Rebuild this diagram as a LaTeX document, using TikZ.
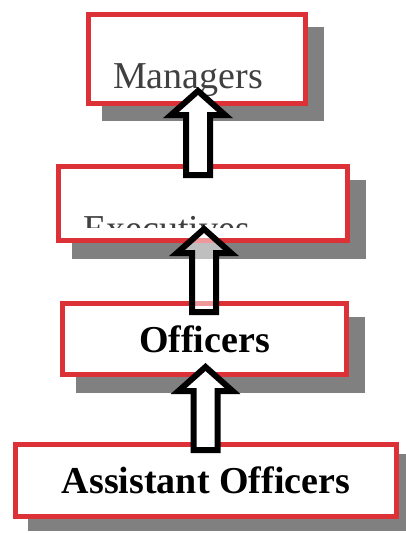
\documentclass[tikz,border=0pt]{standalone}
\usepackage{fontspec}
\setmainfont{Liberation Serif}
\usetikzlibrary{calc,backgrounds}
\definecolor{tierred}{RGB}{221,49,56}
\definecolor{tiershadow}{RGB}{128,128,128}
\definecolor{tiergray}{RGB}{64,64,64}
\tikzstyle{tier}=[draw=tierred, line width=5pt, fill=white, inner sep=0pt, font=\fontsize{38}{44}\selectfont\bfseries]
\tikzstyle{tierlabel}=[inner sep=0pt, text=tiergray, font=\fontsize{38}{44}\selectfont, anchor=base west]
\tikzstyle{liftarrow}=[draw=black, line width=6pt, line join=miter, fill=white]

\begin{document}
\begin{tikzpicture}[x=1pt, y=-1pt]
	\newcommand\liftarrow[3][]{
		\draw[liftarrow, #1] (#2) -- ++(27,24) -- ++(-15,0) |- (#3)
			-- ++(-12,0) |- ($(#2)+(-12,24)$) -- ++(-15,0) -- cycle ;
	}
	\useasboundingbox (0,0) rectangle (405,533) ;
	\node[tier, minimum width=217pt, minimum height=89pt] (mgr) at (197,59) {} ;
	\node[tier, minimum width=289pt, minimum height=74pt] (exe) at (203,203.5) {} ;
	\node[tier, minimum width=284pt, minimum height=71pt] (off) at (204.5,339) {Officers} ;
	\node[tier, minimum width=381pt, minimum height=72pt] (ast) at (206,480.5) {Assistant Officers} ;
	\begin{scope}[on background layer]
		\foreach \lvl/\dx/\dy in {mgr/16/15, exe/16/16, off/16/16, ast/15/12}
			\fill[tiershadow] ([shift={(\dx,\dy)}]\lvl.north west) rectangle ([shift={(\dx,\dy)}]\lvl.south east) ;
	\end{scope}
	\node[tierlabel] (mgrlabel) at ($(mgr.south west)+(27,-18)$) {Managers} ;
	\begin{scope}
		\clip (exe.north west) rectangle ($(exe.south east)+(0,-16)$) ;
		\node[tierlabel] (exelabel) at ($(exe.south west)+(27,-2)$) {Executives} ;
	\end{scope}
	\coordinate (tip1) at ([shift={(1,-15)}]mgr.south) ;
	\coordinate (foot1) at ($(tip1 |- exe.north)+(0,11)$) ;
	\coordinate (tip2) at ([shift={(1,-14)}]exe.south) ;
	\coordinate (foot2) at ($(tip2 |- off.north)+(0,11)$) ;
	\coordinate (tip3) at ([shift={(1,-10)}]off.south) ;
	\coordinate (foot3) at ($(tip3 |- ast.north)+(0,8)$) ;
	\liftarrow{tip1}{foot1}
	\liftarrow[fill opacity=0.5]{tip2}{foot2}
	\liftarrow{tip3}{foot3}
\end{tikzpicture}
\end{document}
